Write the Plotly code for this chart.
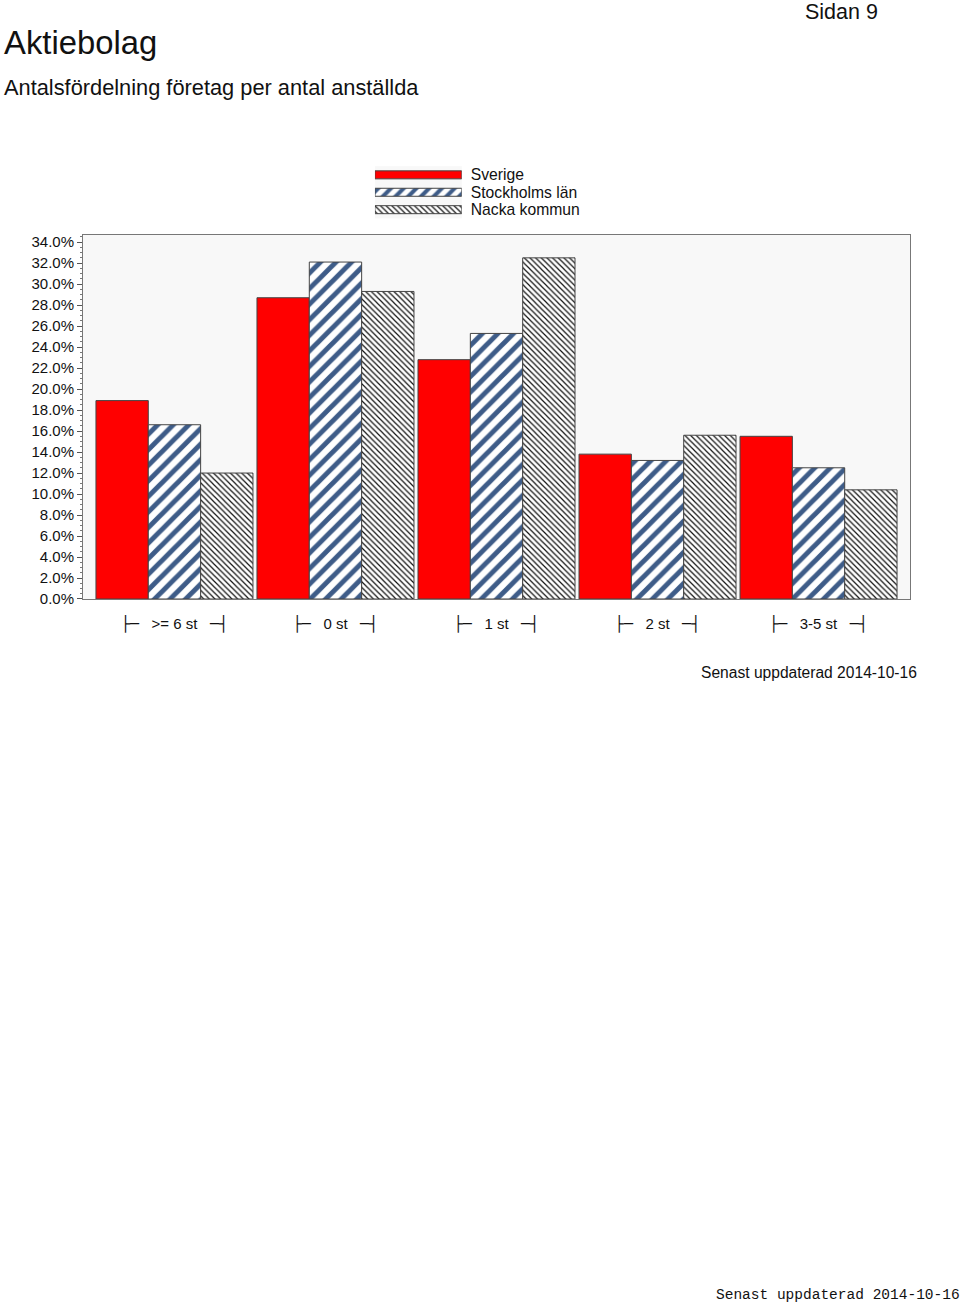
import plotly.graph_objects as go

categories = [">= 6 st", "0 st", "1 st", "2 st", "3-5 st"]
series_names = ["Sverige", "Stockholms län", "Nacka kommun"]
sverige = [18.9, 28.7, 22.8, 13.8, 15.5]
stockholm = [16.6, 32.1, 25.3, 13.2, 12.5]
nacka = [12.0, 29.3, 32.5, 15.6, 10.4]
BOX = "<span style='font-family:DejaVu Sans'>{}</span>"
tick_labels = [BOX.format("├─") + "   " + c + "   " + BOX.format("─┤") for c in categories]
y_ticks = [i * 2.0 for i in range(18)]

FONT = "Liberation Sans, Arial, sans-serif"
LINE = dict(color="#444444", width=1)

styles = [
    dict(color="#ff0000", pattern=None),
    dict(color="white", pattern=dict(shape="/", fgcolor="#3e5c88", bgcolor="white",
                                     size=11, solidity=0.45, fillmode="replace", fgopacity=1)),
    dict(color="white", pattern=dict(shape="\\", fgcolor="#111111", bgcolor="white",
                                     size=4, solidity=0.3, fillmode="replace", fgopacity=1)),
]

fig = go.Figure()
for name, vals, st in zip(series_names, [sverige, stockholm, nacka], styles):
    marker = dict(color=st["color"], line=LINE)
    if st["pattern"]:
        marker["pattern"] = st["pattern"]
    fig.add_trace(go.Bar(x=categories, y=vals, name=name, marker=marker,
                         showlegend=False, xaxis="x", yaxis="y"))

# legend drawn as a tiny horizontal bar chart
for name, st in zip(series_names, styles):
    marker = dict(color=st["color"], line=LINE)
    if st["pattern"]:
        p = dict(st["pattern"])
        p["size"] = 9 if p["shape"] == "/" else 4
        marker["pattern"] = p
    fig.add_trace(go.Bar(y=[name], x=[1], orientation="h", width=0.46,
                         marker=marker, showlegend=False, hoverinfo="skip",
                         xaxis="x2", yaxis="y2"))

fig.update_layout(
    width=960, height=1306,
    margin=dict(l=83, r=50, t=160, b=707),
    paper_bgcolor="white",
    plot_bgcolor="#f8f8f8",
    font=dict(family=FONT, size=15, color="#111111"),
    barmode="group", bargap=0.025, bargroupgap=0,
    xaxis=dict(domain=[0, 1], range=[-0.568, 4.568], tickmode="array",
               tickvals=categories, ticktext=tick_labels, ticks="",
               showgrid=False, zeroline=False, showline=True, linecolor="#777777",
               mirror=True, ticklabelstandoff=11,
               tickfont=dict(family=FONT, size=15), anchor="y"),
    yaxis=dict(domain=[0, 0.829], range=[0, 34.67], tickmode="array",
               tickvals=y_ticks, ticktext=[f"{v:.1f}%" for v in y_ticks],
               ticks="outside", ticklen=5, tickcolor="#555555",
               minor=dict(dtick=0.5, ticks="outside", ticklen=2, tickcolor="#777777"),
               showgrid=False, zeroline=False, showline=True, linecolor="#777777",
               mirror=True, tickfont=dict(size=15), anchor="x"),
    xaxis2=dict(domain=[0.353, 0.458], range=[0, 1], visible=False, anchor="y2"),
    yaxis2=dict(domain=[0.867, 0.986], range=[2.5, -0.5], side="right",
                showgrid=False, zeroline=False, showline=False, ticks="",
                tickmode="array", tickvals=series_names, ticktext=series_names,
                tickfont=dict(size=15.7), anchor="x2", ticklabelstandoff=8,
                categoryorder="array", categoryarray=series_names),
)

def px_to_paper(px, py):
    x0, x1 = 83, 910
    y0, y1 = 599, 160
    return (px - x0) / (x1 - x0), (y0 - py) / (y0 - y1)

texts = [
    ("Aktiebolag", 2, 43, 32.8, "left", FONT),
    ("Antalsfördelning företag per antal anställda", 2, 88, 21.8, "left", FONT),
    ("Sidan 9", 880, 12, 21.5, "right", FONT),
    ("Senast uppdaterad 2014-10-16", 919, 672, 15.6, "right", FONT),
    ("Senast uppdaterad 2014-10-16", 962, 1295, 14.5, "right", "Courier New, Liberation Mono, monospace"),
]
anns = []
for t, px, py, sz, anchor, fam in texts:
    xp, yp = px_to_paper(px, py)
    anns.append(dict(text=t, xref="paper", yref="paper", x=xp, y=yp, showarrow=False,
                     xanchor=anchor, yanchor="middle",
                     font=dict(size=sz, family=fam, color="#111111")))
fig.update_layout(annotations=anns)

fig.write_html("out.html", config={"displayModeBar": False},
               post_script="document.body.style.margin='0';")
